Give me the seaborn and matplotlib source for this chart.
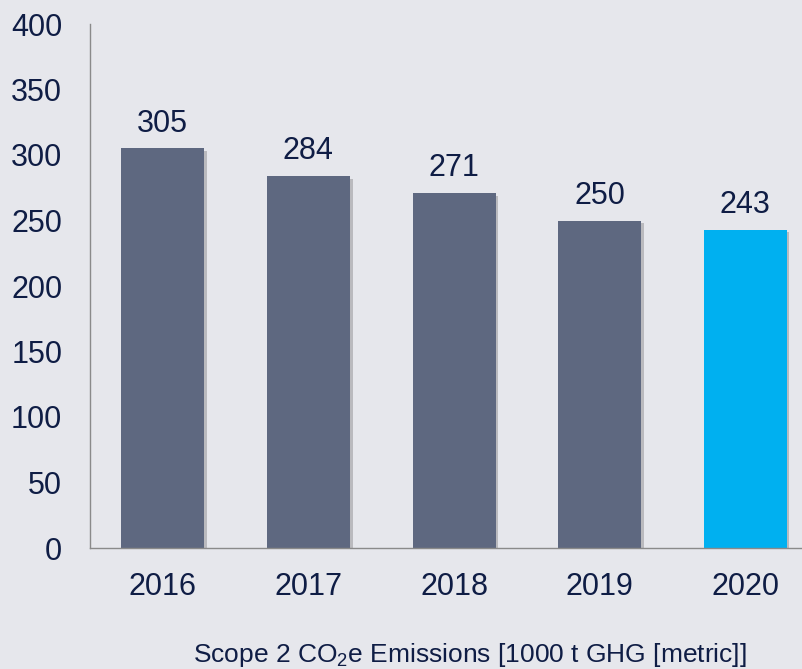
import pandas as pd
import matplotlib.pyplot as plt
import matplotlib.patheffects as pe
import seaborn as sns

# scope 2 emissions per year, last year highlighted
years = ['2016', '2017', '2018', '2019', '2020']
emissions = [305, 284, 271, 250, 243]
bar_colors = ['#5e6880', '#5e6880', '#5e6880', '#5e6880', '#00b0f0']
y_ticks = [0, 50, 100, 150, 200, 250, 300, 350, 400]

df = pd.DataFrame({'year': years, 'emissions': emissions})

sns.set_theme(style='white')
plt.rcParams['font.family'] = ['Liberation Sans', 'DejaVu Sans']
plt.rcParams['mathtext.fontset'] = 'custom'
plt.rcParams['mathtext.rm'] = 'Liberation Sans'
plt.rcParams['mathtext.it'] = 'Liberation Sans'

bg = '#e6e7ec'
txt = '#0f1d45'

fig = plt.figure(figsize=(8.02, 6.69), dpi=100, facecolor=bg)
ax = fig.add_axes([90 / 802, 1 - 548 / 669, 1 - 90 / 802, (548 - 24) / 669])
ax.set_facecolor(bg)

sns.barplot(data=df, x='year', y='emissions', hue='year', palette=bar_colors,
            legend=False, width=0.57, saturation=1, linewidth=0, ax=ax)

for bar in ax.patches:
    bar.set_path_effects([pe.SimplePatchShadow(offset=(2, -2), shadow_rgbFace='#555555', alpha=0.3),
                          pe.Normal()])

for cont in ax.containers:
    ax.bar_label(cont, fontsize=22, color=txt, padding=7)

ax.set_ylim(0, 400)
ax.set_xlim(-0.5, 4.39)
ax.set_yticks(y_ticks)
ax.tick_params(axis='y', length=0, pad=20, labelsize=22, labelcolor=txt)
ax.tick_params(axis='x', length=0, pad=17, labelsize=22, labelcolor=txt)
ax.set_xlabel('')
ax.set_ylabel('')

for s in ['top', 'right']:
    ax.spines[s].set_visible(False)
for s in ['left', 'bottom']:
    ax.spines[s].set_color('#8a8a8a')
    ax.spines[s].set_linewidth(1)

fig.text(470 / 802, 1 - 655 / 669, 'Scope 2 CO$_2$e Emissions [1000 t GHG [metric]]',
         ha='center', va='center', fontsize=19, color=txt)

fig.savefig('out.png', dpi=100, facecolor=bg)
